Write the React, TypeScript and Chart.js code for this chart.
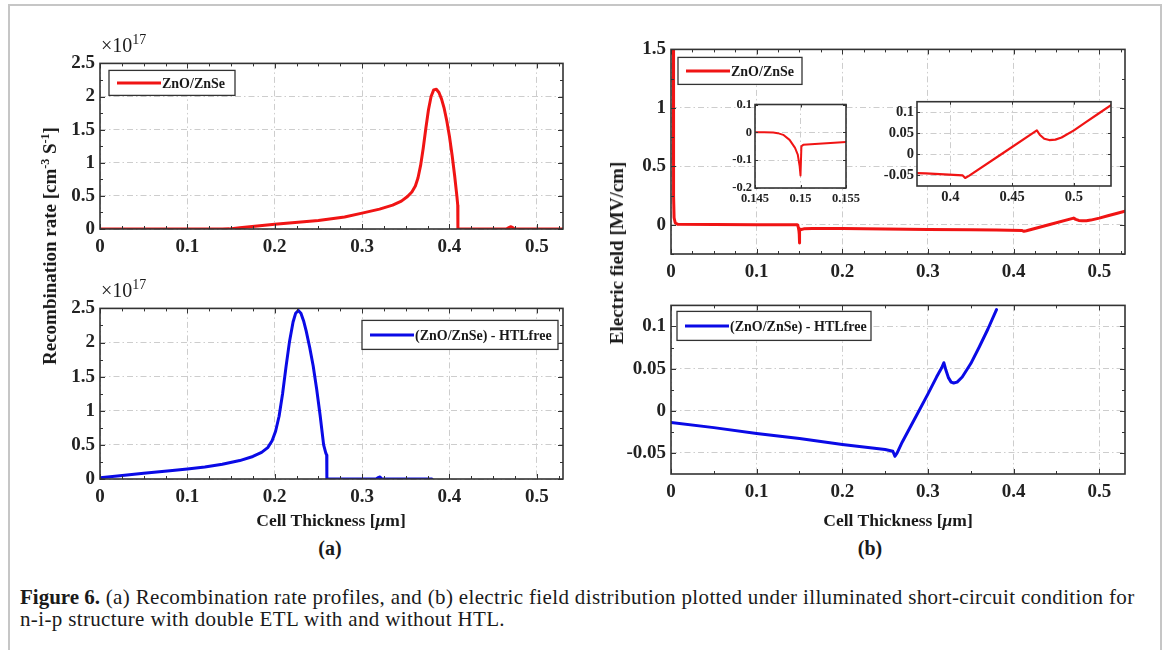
import React, { useEffect, useRef } from 'react';
import { Chart, registerables } from 'chart.js';
Chart.register(...registerables);

// ---------------- data ----------------
const X_TICKS = [0, 0.1, 0.2, 0.3, 0.4, 0.5];
const RECOMB_TICKS = [0, 0.5, 1, 1.5, 2, 2.5];
const EF_TOP_TICKS = [0, 0.5, 1, 1.5];
const EF_BOTTOM_TICKS = [-0.05, 0, 0.05, 0.1];
const INSET1_X_TICKS = [0.145, 0.15, 0.155];
const INSET1_Y_TICKS = [-0.2, -0.1, 0, 0.1];
const INSET2_X_TICKS = [0.4, 0.45, 0.5];
const INSET2_Y_TICKS = [-0.05, 0, 0.05, 0.1];

// recombination rate (units of 1e17 cm^-3 s^-1), with HTL
const RECOMB_HTL_X = [0, 0.05, 0.1, 0.14, 0.148, 0.16, 0.18, 0.2, 0.22, 0.25, 0.28, 0.3, 0.32, 0.335, 0.345, 0.352, 0.357, 0.361, 0.364, 0.367, 0.37, 0.373, 0.376, 0.379, 0.382, 0.385, 0.388, 0.391, 0.394, 0.397, 0.4, 0.403, 0.406, 0.4085, 0.4095, 0.4097, 0.411, 0.465, 0.468, 0.4705, 0.4725, 0.475, 0.53];
const RECOMB_HTL_Y = [0, 0, 0, 0, 0.002, 0.018, 0.045, 0.07, 0.095, 0.13, 0.18, 0.24, 0.3, 0.36, 0.42, 0.49, 0.56, 0.65, 0.77, 0.96, 1.22, 1.52, 1.8, 2.0, 2.1, 2.11, 2.06, 1.96, 1.82, 1.63, 1.4, 1.12, 0.8, 0.5, 0.36, 0, 0, 0, 0.02, 0.035, 0.02, 0, 0];

// recombination rate, HTL-free
const RECOMB_FREE_X = [0, 0.02, 0.05, 0.08, 0.1, 0.12, 0.14, 0.16, 0.175, 0.185, 0.192, 0.197, 0.201, 0.205, 0.209, 0.213, 0.217, 0.221, 0.224, 0.227, 0.23, 0.233, 0.236, 0.24, 0.244, 0.248, 0.252, 0.256, 0.2585, 0.2595, 0.2597, 0.316, 0.3185, 0.3205, 0.3225, 0.38];
const RECOMB_FREE_Y = [0.02, 0.045, 0.085, 0.12, 0.145, 0.175, 0.215, 0.27, 0.33, 0.39, 0.46, 0.56, 0.7, 0.92, 1.25, 1.65, 2.02, 2.3, 2.43, 2.47, 2.43, 2.32, 2.17, 1.93, 1.66, 1.32, 0.93, 0.5, 0.38, 0.35, 0, 0, 0.02, 0.03, 0, 0];

// electric field (MV/cm), with HTL
const EF_HTL_X = [0.0028, 0.003, 0.0036, 0.005, 0.008, 0.05, 0.1, 0.14, 0.146, 0.147, 0.1475, 0.1481, 0.1488, 0.1494, 0.1497, 0.1499, 0.15, 0.1501, 0.1503, 0.152, 0.155, 0.165, 0.18, 0.2, 0.25, 0.3, 0.35, 0.38, 0.41, 0.412, 0.415, 0.44, 0.47, 0.4725, 0.476, 0.48, 0.485, 0.49, 0.5, 0.51, 0.52, 0.53];
const EF_HTL_Y = [1.6, 0.25, 0.06, 0.015, 0.004, 0.002, 0.001, 0, 0, -0.001, -0.003, -0.009, -0.027, -0.056, -0.08, -0.12, -0.155, -0.05, -0.045, -0.041, -0.035, -0.032, -0.031, -0.032, -0.036, -0.04, -0.043, -0.045, -0.05, -0.056, -0.051, -0.002, 0.057, 0.046, 0.037, 0.034, 0.035, 0.04, 0.057, 0.077, 0.097, 0.117];

// electric field, HTL-free
const EF_FREE_X = [0, 0.05, 0.1, 0.15, 0.2, 0.25, 0.259, 0.2615, 0.264, 0.27, 0.28, 0.29, 0.3, 0.31, 0.316, 0.3185, 0.321, 0.324, 0.327, 0.33, 0.334, 0.34, 0.35, 0.36, 0.37, 0.38];
const EF_FREE_Y = [-0.014, -0.02, -0.027, -0.033, -0.04, -0.046, -0.048, -0.054, -0.05, -0.037, -0.018, 0.001, 0.02, 0.04, 0.051, 0.057, 0.048, 0.039, 0.034, 0.033, 0.034, 0.04, 0.056, 0.076, 0.097, 0.12];

// ---------------- styling ----------------
const FONT = '"Liberation Serif", "Times New Roman", serif';
const RED = '#f01414';
const BLUE = '#0a0ae6';
const AXIS = '#333333';
const GRID = '#cdcdcd';

type Series = { x: number[]; y: number[]; color: string; width: number };
type Spec = {
  left: number; top: number; w: number; h: number;
  padL: number; padT: number; padR: number; padB: number;
  xMin: number; xMax: number; yMin: number; yMax: number;
  xTicks: number[]; yTicks: number[];
  xMinor: number; yMinor: number;
  major: number; minor: number;
  fontSize: number; xPad: number; yPad: number;
  series: Series[];
  legend?: { text: string; color: string; dx: number; dy: number; w: number; h: number };
  whiteBg?: boolean;
};

const fmt = (v: number) => String(+Number(v).toFixed(4));

function makeDecor(spec: Spec) {
  return {
    id: 'decor',
    beforeDraw(chart: any) {
      if (!spec.whiteBg) return;
      const { ctx, chartArea: a } = chart;
      ctx.save();
      ctx.fillStyle = '#ffffff';
      ctx.fillRect(a.left, a.top, a.right - a.left, a.bottom - a.top);
      ctx.restore();
    },
    afterDraw(chart: any) {
      const { ctx, chartArea: a, scales } = chart;
      const xs = scales.x, ys = scales.y;
      ctx.save();
      ctx.strokeStyle = AXIS;
      ctx.lineWidth = 1;
      const seg = (x1: number, y1: number, x2: number, y2: number) => {
        ctx.beginPath(); ctx.moveTo(x1, y1); ctx.lineTo(x2, y2); ctx.stroke();
      };
      const xTick = (v: number, len: number) => {
        const p = Math.round(xs.getPixelForValue(v)) + 0.5;
        seg(p, a.bottom, p, a.bottom - len);
        seg(p, a.top, p, a.top + len);
      };
      const yTick = (v: number, len: number) => {
        const p = Math.round(ys.getPixelForValue(v)) + 0.5;
        seg(a.left, p, a.left + len, p);
        seg(a.right, p, a.right - len, p);
      };
      if (spec.xMinor > 0) {
        for (let v = Math.ceil(spec.xMin / spec.xMinor) * spec.xMinor; v <= spec.xMax + 1e-9; v += spec.xMinor) xTick(v, spec.minor);
      }
      if (spec.yMinor > 0) {
        for (let v = Math.ceil(spec.yMin / spec.yMinor) * spec.yMinor; v <= spec.yMax + 1e-9; v += spec.yMinor) yTick(v, spec.minor);
      }
      spec.xTicks.forEach((v) => xTick(v, spec.major));
      spec.yTicks.forEach((v) => yTick(v, spec.major));
      ctx.lineWidth = 1.6;
      ctx.strokeRect(a.left, a.top, a.right - a.left, a.bottom - a.top);

      if (spec.legend) {
        const L = spec.legend;
        const x0 = a.left + L.dx, y0 = a.top + L.dy;
        ctx.fillStyle = '#ffffff';
        ctx.fillRect(x0, y0, L.w, L.h);
        ctx.lineWidth = 1.3;
        ctx.strokeStyle = AXIS;
        ctx.strokeRect(x0, y0, L.w, L.h);
        ctx.strokeStyle = L.color;
        ctx.lineWidth = 3;
        seg(x0 + 8, y0 + L.h / 2, x0 + 52, y0 + L.h / 2);
        ctx.fillStyle = '#1a1a1a';
        ctx.font = `bold 14px ${FONT}`;
        ctx.textBaseline = 'middle';
        ctx.textAlign = 'left';
        ctx.fillText(L.text, x0 + 53, y0 + L.h / 2 + 1);
      }
      ctx.restore();
    },
  };
}

function buildConfig(spec: Spec): any {
  const font = { family: FONT, size: spec.fontSize, weight: 'bold' as const };
  const axisCommon = {
    type: 'linear' as const,
    grid: { color: GRID, lineWidth: 1, drawTicks: false },
    border: { display: false, dash: [6, 3, 1.5, 3] },
  };
  return {
    type: 'line',
    data: {
      datasets: spec.series.map((s) => ({
        data: s.x.map((x, i) => ({ x, y: s.y[i] })),
        borderColor: s.color,
        borderWidth: s.width,
        pointRadius: 0,
        tension: 0,
        fill: false,
        borderJoinStyle: 'round',
        borderCapStyle: 'round',
      })),
    },
    options: {
      responsive: false,
      animation: false,
      devicePixelRatio: 1,
      events: [],
      layout: { padding: { top: spec.padT, right: spec.padR, left: 0, bottom: 0 } },
      plugins: { legend: { display: false }, tooltip: { enabled: false } },
      scales: {
        x: {
          ...axisCommon,
          position: 'bottom',
          min: spec.xMin,
          max: spec.xMax,
          afterBuildTicks: (s: any) => { s.ticks = spec.xTicks.map((v) => ({ value: v })); },
          afterFit: (s: any) => { s.height = spec.padB; },
          ticks: { padding: spec.xPad, font, color: '#222', maxRotation: 0, autoSkip: false, callback: (v: any) => fmt(v) },
        },
        y: {
          ...axisCommon,
          position: 'left',
          min: spec.yMin,
          max: spec.yMax,
          afterBuildTicks: (s: any) => { s.ticks = spec.yTicks.map((v) => ({ value: v })); },
          afterFit: (s: any) => { s.width = spec.padL; },
          ticks: { padding: spec.yPad, font, color: '#222', autoSkip: false, callback: (v: any) => fmt(v) },
        },
      },
    },
    plugins: [makeDecor(spec)],
  };
}

function Panel({ spec }: { spec: Spec }) {
  const ref = useRef<HTMLCanvasElement>(null);
  const w = spec.padL + spec.w + spec.padR;
  const h = spec.padT + spec.h + spec.padB;
  useEffect(() => {
    const chart = new Chart(ref.current as HTMLCanvasElement, buildConfig(spec));
    return () => chart.destroy();
  }, []);
  return (
    <canvas
      ref={ref}
      width={w}
      height={h}
      style={{ position: 'absolute', left: spec.left - spec.padL, top: spec.top - spec.padT, width: w, height: h }}
    />
  );
}

const mainBase = { padL: 60, padT: 14, padR: 12, padB: 42, major: 5, minor: 3, fontSize: 19, xPad: 7, yPad: 5 };
const insetBase = { padT: 10, padR: 24, padB: 24, major: 3, minor: 0, xMinor: 0, yMinor: 0, whiteBg: true, xPad: 3, yPad: 3 };

const SPECS: Spec[] = [
  {
    ...mainBase, left: 100, top: 61, w: 463, h: 168,
    xMin: 0, xMax: 0.53, yMin: 0, yMax: 2.5, xTicks: X_TICKS, yTicks: RECOMB_TICKS, xMinor: 0.025, yMinor: 0.25,
    series: [{ x: RECOMB_HTL_X, y: RECOMB_HTL_Y, color: RED, width: 3 }],
    legend: { text: 'ZnO/ZnSe', color: RED, dx: 9, dy: 7, w: 126, h: 25 },
  },
  {
    ...mainBase, left: 100, top: 306, w: 463, h: 173,
    xMin: 0, xMax: 0.53, yMin: 0, yMax: 2.5, xTicks: X_TICKS, yTicks: RECOMB_TICKS, xMinor: 0.025, yMinor: 0.25,
    series: [{ x: RECOMB_FREE_X, y: RECOMB_FREE_Y, color: BLUE, width: 3 }],
    legend: { text: '(ZnO/ZnSe) - HTLfree', color: BLUE, dx: 262, dy: 12, w: 196, h: 29 },
  },
  {
    ...mainBase, left: 671, top: 47, w: 454, h: 207,
    xMin: 0, xMax: 0.53, yMin: -0.25, yMax: 1.5, xTicks: X_TICKS, yTicks: EF_TOP_TICKS, xMinor: 0.025, yMinor: 0.25,
    series: [{ x: EF_HTL_X, y: EF_HTL_Y, color: RED, width: 3 }],
    legend: { text: 'ZnO/ZnSe', color: RED, dx: 7, dy: 8, w: 124, h: 27 },
  },
  {
    ...mainBase, left: 671, top: 303, w: 454, h: 171,
    xMin: 0, xMax: 0.53, yMin: -0.075, yMax: 0.125, xTicks: X_TICKS, yTicks: EF_BOTTOM_TICKS, xMinor: 0.05, yMinor: 0.025,
    series: [{ x: EF_FREE_X, y: EF_FREE_Y, color: BLUE, width: 3 }],
    legend: { text: '(ZnO/ZnSe) - HTLfree', color: BLUE, dx: 6, dy: 6, w: 194, h: 29 },
  },
  {
    ...insetBase, padL: 40, fontSize: 12.5, left: 755, top: 104, w: 91, h: 84,
    xMin: 0.145, xMax: 0.155, yMin: -0.2, yMax: 0.1, xTicks: INSET1_X_TICKS, yTicks: INSET1_Y_TICKS,
    series: [{ x: EF_HTL_X, y: EF_HTL_Y, color: RED, width: 2 }],
  },
  {
    ...insetBase, padL: 50, fontSize: 14.5, left: 917, top: 100, w: 194, h: 86,
    xMin: 0.373, xMax: 0.53, yMin: -0.075, yMax: 0.125, xTicks: INSET2_X_TICKS, yTicks: INSET2_Y_TICKS,
    series: [{ x: EF_HTL_X, y: EF_HTL_Y, color: RED, width: 2.2 }],
  },
];

const txt: React.CSSProperties = { position: 'absolute', fontFamily: FONT, color: '#1a1a1a', whiteSpace: 'nowrap' };
const sup = (s: string, size: number, lift: number) => (
  <sup style={{ fontSize: size, verticalAlign: `${lift}px`, lineHeight: 0 }}>{s}</sup>
);

export default function App() {
  return (
    <div style={{ position: 'absolute', left: 0, top: 0, width: 1168, height: 650, overflow: 'hidden', background: '#fff' }}>
      <div style={{ position: 'absolute', left: 8, top: 4, width: 1154, height: 700, border: '2px solid #c6c6c6', boxSizing: 'border-box' }} />
      {SPECS.map((s, i) => <Panel key={i} spec={s} />)}

      {/* exponent labels */}
      <div style={{ ...txt, left: 101, top: 35, fontSize: 20, lineHeight: '20px' }}>×10{sup('17', 14, 8)}</div>
      <div style={{ ...txt, left: 101, top: 280, fontSize: 20, lineHeight: '20px' }}>×10{sup('17', 14, 8)}</div>

      {/* y titles */}
      <div style={{ ...txt, left: 50, top: 246, fontSize: 19, fontWeight: 'bold', transform: 'translate(-50%, -50%) rotate(-90deg)', lineHeight: '20px' }}>
        Recombination rate [cm{sup('-3', 12, 7)} S{sup('-1', 12, 7)}]
      </div>
      <div style={{ ...txt, left: 617, top: 253, fontSize: 19, fontWeight: 'bold', transform: 'translate(-50%, -50%) rotate(-90deg)', lineHeight: '20px' }}>
        Electric field [MV/cm]
      </div>

      {/* x titles */}
      <div style={{ ...txt, left: 331, top: 520, fontSize: 17.5, fontWeight: 'bold', transform: 'translate(-50%, -50%)' }}>
        Cell Thickness [<i>μ</i>m]
      </div>
      <div style={{ ...txt, left: 898, top: 520, fontSize: 17.5, fontWeight: 'bold', transform: 'translate(-50%, -50%)' }}>
        Cell Thickness [<i>μ</i>m]
      </div>

      <div style={{ ...txt, left: 330, top: 548, fontSize: 20, fontWeight: 'bold', transform: 'translate(-50%, -50%)' }}>(a)</div>
      <div style={{ ...txt, left: 870, top: 548, fontSize: 20, fontWeight: 'bold', transform: 'translate(-50%, -50%)' }}>(b)</div>

      <div style={{ ...txt, left: 20, top: 586, fontSize: 21, lineHeight: '22px', letterSpacing: '0.35px' }}>
        <b style={{ letterSpacing: 0 }}>Figure 6.</b> (a) Recombination rate profiles, and (b) electric field distribution plotted under illuminated short-circuit condition for
        <br />
        n-i-p structure with double ETL with and without HTL.
      </div>
    </div>
  );
}
